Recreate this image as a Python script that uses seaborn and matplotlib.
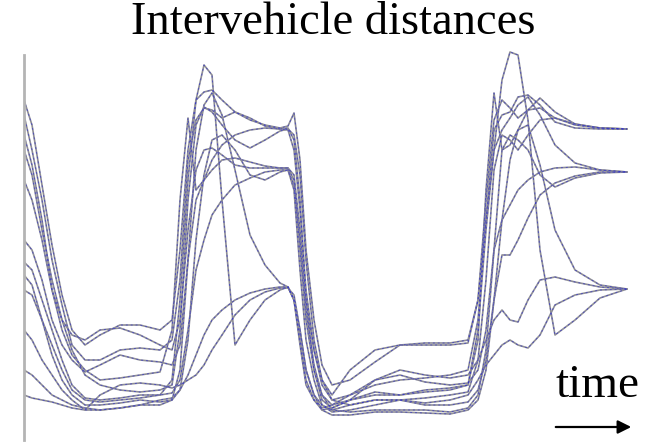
import numpy as np
import pandas as pd
import matplotlib
matplotlib.use("Agg")
import matplotlib.pyplot as plt
import seaborn as sns

# time samples (arbitrary units along the horizontal axis)
time = [24, 32, 42, 52, 62, 72, 85, 100, 120, 140, 160, 172, 180, 188, 196, 204, 212,
        222, 235, 250, 265, 280, 288, 294, 300, 306, 314, 322, 332, 350, 375, 400, 425,
        450, 468, 478, 486, 494, 502, 510, 518, 528, 540, 555, 575, 600, 627]

# intervehicle distances per vehicle
veh_a1 = [340, 315, 255, 195, 145, 110, 95, 105, 115, 115, 110,
          120, 190, 290, 340, 348, 350, 340, 328, 320, 315, 312,
          314, 327, 280, 190, 120, 75, 55,
          60, 78, 95, 97, 97, 100,
          140, 240, 320, 340, 332, 322, 330, 342, 328, 316, 312, 311]
veh_a2 = [325, 290, 240, 180, 135, 95, 80, 80, 90, 92, 90,
          100, 160, 280, 320, 332, 330, 322, 328, 322, 314, 311,
          310, 290, 230, 150, 90, 55, 40,
          45, 55, 60, 62, 65, 70,
          120, 220, 310, 325, 328, 343, 345, 335, 318, 312, 311, 311]
veh_a3 = [305, 275, 220, 150, 110, 85, 70, 60, 62, 65, 68,
          110, 240, 322, 250, 260, 280, 295, 305, 310, 312, 311,
          312, 300, 240, 140, 70, 40, 32,
          40, 48, 45, 50, 52, 55,
          100, 250, 347, 290, 295, 310, 330, 332, 322, 315, 312, 311]
veh_a4 = [290, 265, 210, 160, 120, 90, 65, 55, 50, 48, 50,
          55, 110, 240, 315, 333, 328, 315, 300, 292, 300, 309,
          311, 305, 265, 180, 100, 60, 40,
          35, 40, 40, 42, 45, 48,
          80, 160, 270, 305, 300, 290, 305, 320, 322, 316, 312, 311]
veh_b1 = [260, 240, 200, 150, 120, 105, 100, 110, 112, 105, 95,
          90, 120, 210, 270, 290, 292, 285, 275, 272, 272, 272,
          272, 265, 210, 140, 90, 60, 45,
          70, 90, 95, 95, 95, 97,
          140, 220, 290, 310, 322, 335, 343, 325, 295, 277, 270, 268]
veh_b2 = [200, 190, 160, 120, 95, 80, 68, 75, 85, 80, 78,
          75, 95, 180, 240, 260, 270, 280, 282, 278, 274, 272,
          272, 260, 190, 120, 70, 45, 35,
          40, 60, 65, 58, 55, 57,
          70, 110, 190, 220, 235, 250, 260, 268, 272, 273, 270, 268]
veh_b3 = [178, 170, 140, 110, 80, 55, 42, 40, 42, 45, 45,
          47, 60, 110, 170, 200, 225, 240, 255, 262, 268, 270,
          270, 250, 170, 100, 60, 35, 28,
          30, 35, 40, 35, 35, 38,
          50, 80, 140, 185, 185, 200, 222, 245, 257, 264, 268, 268]
veh_b4 = [165, 155, 120, 85, 60, 45, 35, 35, 37, 40, 38,
          40, 50, 100, 200, 265, 300, 305, 290, 265, 260, 268,
          270, 255, 200, 130, 75, 45, 30,
          28, 30, 30, 30, 28, 32,
          45, 90, 190, 290, 305, 300, 290, 265, 253, 262, 267, 268]
veh_c1 = [150, 145, 120, 95, 70, 50, 40, 38, 40, 42, 45,
          60, 140, 260, 340, 375, 365, 240, 95, 120, 140, 150,
          153, 140, 100, 60, 40, 30, 32,
          40, 45, 45, 48, 50, 55,
          110, 210, 290, 360, 388, 385, 320, 190, 105, 120, 142, 151]
veh_c2 = [110, 100, 80, 65, 50, 40, 30, 30, 32, 35, 35,
          40, 70, 180, 290, 335, 347, 325, 270, 205, 175, 157,
          153, 140, 110, 70, 45, 30, 25,
          25, 28, 28, 27, 26, 30,
          40, 70, 140, 220, 280, 310, 315, 275, 210, 170, 155, 151]
veh_c3 = [70, 65, 55, 45, 40, 35, 32, 30, 32, 35, 40,
          42, 50, 65, 85, 105, 120, 130, 140, 147, 151, 153,
          153, 140, 95, 55, 40, 32, 35,
          45, 60, 70, 65, 62, 65,
          80, 100, 120, 130, 120, 118, 140, 160, 163, 158, 153, 151]
veh_c4 = [45, 42, 40, 38, 35, 32, 30, 45, 55, 57, 55,
          52, 55, 60, 65, 75, 90, 105, 125, 140, 148, 152,
          152, 145, 110, 70, 45, 35, 30,
          35, 40, 40, 37, 40, 45,
          60, 75, 85, 95, 100, 95, 92, 105, 135, 145, 150, 151]

vehicles = {"a1": veh_a1, "a2": veh_a2, "a3": veh_a3, "a4": veh_a4,
            "b1": veh_b1, "b2": veh_b2, "b3": veh_b3, "b4": veh_b4,
            "c1": veh_c1, "c2": veh_c2, "c3": veh_c3, "c4": veh_c4}

rows = []
for name, vals in vehicles.items():
    for t, v in zip(time, vals):
        rows.append({"vehicle": name, "time": t, "dist": v})
df = pd.DataFrame(rows)

sns.set_theme(style="white")
W, H = 652, 448
fig = plt.figure(figsize=(W / 100, H / 100), dpi=100)
ax = fig.add_axes([24 / W, 8 / H, (640 - 24) / W, 400 / H])

sns.lineplot(data=df, x="time", y="dist", units="vehicle", estimator=None,
             color="#8e8e96", lw=1.2, ax=ax, sort=False)
sns.lineplot(data=df, x="time", y="dist", units="vehicle", estimator=None,
             color="#2424d0", lw=0.7, alpha=0.6, ax=ax, sort=False)
for ln in ax.lines:
    ln.set_solid_joinstyle("round")
for ln in ax.lines[len(vehicles):]:
    ln.set_dashes((2, 3))

ax.set_xlim(24, 640)
ax.set_ylim(0, 400)
ax.set_xticks([])
ax.set_yticks([])
ax.set_xlabel("")
ax.set_ylabel("")
for s in ["top", "right", "bottom"]:
    ax.spines[s].set_visible(False)
ax.spines["left"].set_color("#b4b4b4")
ax.spines["left"].set_linewidth(2)
ax.spines["left"].set_bounds(0, 385)
ax.patch.set_alpha(0)

serif = ["Liberation Serif", "DejaVu Serif"]
fig.text(333 / W, (H - 34) / H, "Intervehicle distances", family=serif,
         fontsize=33.5, ha="center", va="baseline", color="black")
fig.text(598 / W, (H - 397) / H, "time", family=serif,
         fontsize=34, ha="center", va="baseline", color="black")
fig.patches.append(matplotlib.patches.FancyArrowPatch(
    (553 / W, (H - 427) / H), (634 / W, (H - 427) / H),
    transform=fig.transFigure, arrowstyle="-|>", mutation_scale=20,
    color="black", lw=1.6))

fig.savefig("out.png", dpi=100, facecolor="white")
